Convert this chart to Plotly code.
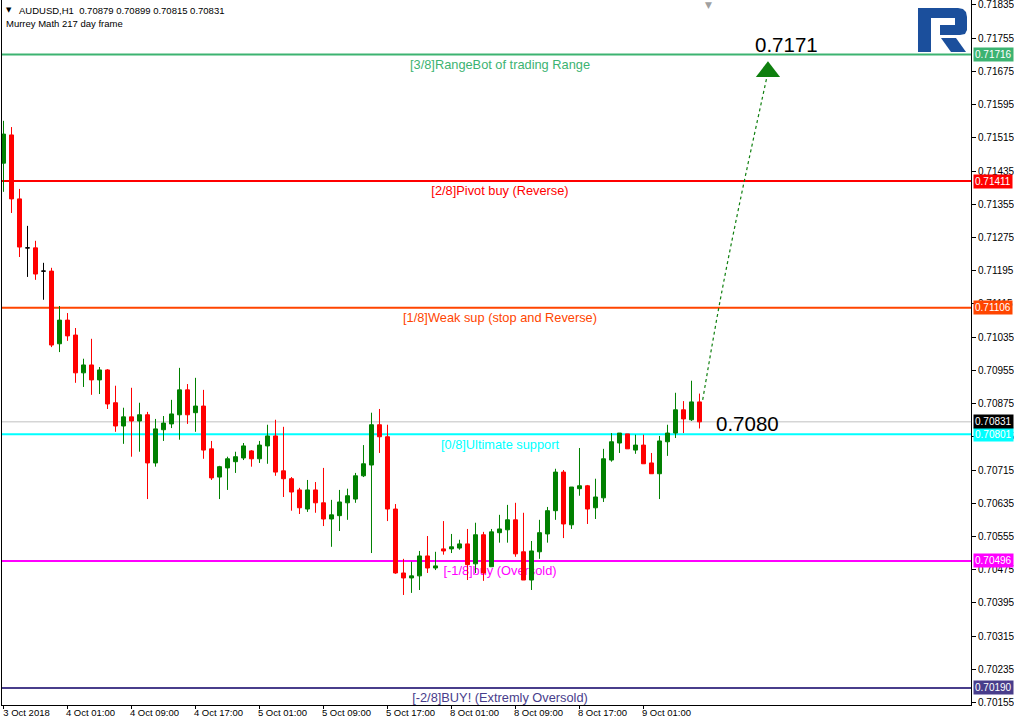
import plotly.graph_objects as go

# ---------------- data ----------------
opens = [0.71454, 0.71522, 0.71368, 0.71250, 0.71250, 0.71194, 0.71194, 0.71019, 0.71076, 0.71040,
         0.70949, 0.70968, 0.70932, 0.70956, 0.70877, 0.70821, 0.70843, 0.70833, 0.70848, 0.70732,
         0.70812, 0.70826, 0.70848, 0.70908, 0.70853, 0.70869, 0.70766, 0.70698, 0.70720, 0.70735,
         0.70744, 0.70761, 0.70742, 0.70773, 0.70797, 0.70713, 0.70694, 0.70667, 0.70621, 0.70667,
         0.70636, 0.70597, 0.70605, 0.70636, 0.70645, 0.70701, 0.70727, 0.70824, 0.70795, 0.70621,
         0.70467, 0.70455, 0.70460, 0.70508, 0.70479, 0.70525, 0.70525, 0.70527, 0.70537, 0.70489,
         0.70559, 0.70482, 0.70564, 0.70571, 0.70595, 0.70518, 0.70450, 0.70518, 0.70561, 0.70617,
         0.70710, 0.70583, 0.70670, 0.70677, 0.70624, 0.70648, 0.70739, 0.70780, 0.70802, 0.70763,
         0.70775, 0.70732, 0.70706, 0.70783, 0.70804, 0.70860, 0.70836, 0.70879]
highs = [0.71556, 0.71541, 0.71392, 0.71303, 0.71267, 0.71214, 0.71202, 0.71110, 0.71093, 0.71057,
         0.70983, 0.71031, 0.70963, 0.70958, 0.70918, 0.70865, 0.70913, 0.70877, 0.70855, 0.70838,
         0.70845, 0.70884, 0.70961, 0.70922, 0.70937, 0.70908, 0.70785, 0.70725, 0.70747, 0.70759,
         0.70780, 0.70763, 0.70785, 0.70824, 0.70836, 0.70819, 0.70698, 0.70672, 0.70691, 0.70686,
         0.70720, 0.70643, 0.70667, 0.70670, 0.70708, 0.70775, 0.70853, 0.70862, 0.70824, 0.70633,
         0.70501, 0.70494, 0.70520, 0.70556, 0.70518, 0.70592, 0.70561, 0.70547, 0.70573, 0.70588,
         0.70566, 0.70573, 0.70607, 0.70631, 0.70636, 0.70612, 0.70544, 0.70595, 0.70626, 0.70718,
         0.70715, 0.70674, 0.70768, 0.70679, 0.70694, 0.70766, 0.70804, 0.70804, 0.70802, 0.70800,
         0.70800, 0.70756, 0.70797, 0.70824, 0.70901, 0.70881, 0.70930, 0.70899]
lows = [0.71385, 0.71334, 0.71228, 0.71180, 0.71173, 0.71125, 0.71011, 0.70999, 0.71026, 0.70925,
        0.70915, 0.70896, 0.70898, 0.70862, 0.70807, 0.70778, 0.70747, 0.70759, 0.70645, 0.70723,
        0.70785, 0.70816, 0.70788, 0.70826, 0.70807, 0.70742, 0.70691, 0.70645, 0.70667, 0.70708,
        0.70739, 0.70723, 0.70732, 0.70730, 0.70701, 0.70650, 0.70617, 0.70609, 0.70614, 0.70612,
        0.70580, 0.70530, 0.70568, 0.70595, 0.70636, 0.70698, 0.70515, 0.70756, 0.70592, 0.70465,
        0.70414, 0.70419, 0.70426, 0.70467, 0.70474, 0.70511, 0.70515, 0.70523, 0.70450, 0.70467,
        0.70448, 0.70482, 0.70540, 0.70540, 0.70506, 0.70450, 0.70426, 0.70501, 0.70540, 0.70595,
        0.70551, 0.70573, 0.70653, 0.70585, 0.70597, 0.70638, 0.70735, 0.70756, 0.70766, 0.70754,
        0.70730, 0.70706, 0.70645, 0.70749, 0.70792, 0.70804, 0.70833, 0.70815]
closes = [0.71524, 0.71368, 0.71252, 0.71250, 0.71187, 0.71194, 0.71016, 0.71076, 0.71038, 0.70949,
          0.70968, 0.70932, 0.70956, 0.70874, 0.70821, 0.70843, 0.70833, 0.70848, 0.70732, 0.70814,
          0.70828, 0.70850, 0.70908, 0.70848, 0.70869, 0.70763, 0.70696, 0.70723, 0.70742, 0.70747,
          0.70773, 0.70742, 0.70775, 0.70797, 0.70710, 0.70694, 0.70662, 0.70624, 0.70667, 0.70636,
          0.70597, 0.70607, 0.70638, 0.70653, 0.70701, 0.70730, 0.70824, 0.70795, 0.70621, 0.70467,
          0.70455, 0.70460, 0.70508, 0.70479, 0.70484, 0.70520, 0.70530, 0.70537, 0.70487, 0.70559,
          0.70467, 0.70566, 0.70573, 0.70595, 0.70513, 0.70450, 0.70520, 0.70564, 0.70617, 0.70710,
          0.70585, 0.70674, 0.70677, 0.70621, 0.70650, 0.70742, 0.70783, 0.70804, 0.70766, 0.70775,
          0.70730, 0.70706, 0.70785, 0.70804, 0.70860, 0.70838, 0.70879, 0.70831]

time_labels = ["3 Oct 2018", "4 Oct 01:00", "4 Oct 09:00", "4 Oct 17:00", "5 Oct 01:00",
               "5 Oct 09:00", "5 Oct 17:00", "8 Oct 01:00", "8 Oct 09:00", "8 Oct 17:00",
               "9 Oct 01:00"]
time_label_bars = [0, 8, 16, 24, 32, 40, 48, 56, 64, 72, 80]

price_ticks = [0.70155, 0.70235, 0.70315, 0.70395, 0.70475, 0.70555, 0.70635, 0.70715,
               0.70795, 0.70875, 0.70955, 0.71035, 0.71115, 0.71195, 0.71275, 0.71355,
               0.71435, 0.71515, 0.71595, 0.71675, 0.71755, 0.71835]

level_values = [0.71716, 0.71411, 0.71106, 0.70801, 0.70496, 0.70190]
level_names = ["[3/8]RangeBot of trading Range", "[2/8]Pivot buy (Reverse)",
               "[1/8]Weak sup (stop and Reverse)", "[0/8]Ultimate support",
               "[-1/8]buy (Oversold)", "[-2/8]BUY! (Extremly Oversold)"]
level_colors = ["#3CB371", "#FF0000", "#FF4500", "#00FFFF", "#FF00FF", "#483D8B"]

bid_price = 0.70831
target_text = ["0.7171", "0.7080"]
target_value = [0.71741, 0.70826]
target_bar = [93.7, 88.8]

forecast_x = [87.4, 89.6, 92.1, 94.8, 95.4]
forecast_y = [0.70884, 0.71125, 0.71365, 0.71606, 0.71659]
arrow_head = (95.56, 0.71674)

# ---------------- figure ----------------
W, H = 1014, 721
ML, MR, MT, MB = 2, 43, 0, 16
PW = W - ML - MR
PH = H - MT - MB
Y_RANGE = [0.70149, 0.71847]
PX_PER_UNIT = PH / (Y_RANGE[1] - Y_RANGE[0])

def px(xp):
    return (xp - ML) / PW

def py(yp):
    return (PH + MT - yp) / PH

GREEN = "#008000"
RED = "#FF0000"

n = len(opens)
groups = {"up": [], "down": [], "doji": []}
for i in range(n):
    if closes[i] > opens[i]:
        groups["up"].append(i)
    elif closes[i] < opens[i]:
        groups["down"].append(i)
    else:
        groups["doji"].append(i)

fig = go.Figure()
for key, col in (("up", GREEN), ("down", RED), ("doji", "#000000")):
    idx = groups[key]
    fig.add_trace(go.Candlestick(
        x=idx,
        open=[opens[i] for i in idx], high=[highs[i] for i in idx],
        low=[lows[i] for i in idx], close=[closes[i] for i in idx],
        increasing=dict(line=dict(color=col, width=1), fillcolor=col),
        decreasing=dict(line=dict(color=col, width=1), fillcolor=col),
        whiskerwidth=0, hoverinfo="skip", showlegend=False,
    ))

# forecast dotted path and arrow head
fig.add_trace(go.Scatter(x=forecast_x, y=forecast_y, mode="lines",
                         line=dict(color="#0E7F0E", width=1.2, dash="dot", shape="spline"),
                         hoverinfo="skip", showlegend=False))
fig.add_trace(go.Scatter(x=[arrow_head[0]], y=[arrow_head[1]], mode="markers",
                         marker=dict(symbol="triangle-up", size=21, color="#0E7F0E",
                                     line=dict(width=0)),
                         hoverinfo="skip", showlegend=False))

shapes = []
annotations = []

# bid line
shapes.append(dict(type="line", xref="paper", x0=0, x1=1, yref="y", y0=bid_price, y1=bid_price,
                   line=dict(color="#C0C0C0", width=1), layer="below"))

FONT = "Liberation Sans, Arial, sans-serif"
label_h = 18 / PX_PER_UNIT
for val, name, col in zip(level_values, level_names, level_colors):
    shapes.append(dict(type="line", xref="paper", x0=0, x1=1, yref="y", y0=val, y1=val,
                       line=dict(color=col, width=2), layer="below"))
    # text label drawn behind the candles (chart in foreground)
    shapes.append(dict(type="rect", xref="paper", x0=px(30), x1=px(970), yref="y",
                       y0=val - label_h, y1=val, fillcolor="rgba(0,0,0,0)",
                       line=dict(width=0), layer="below",
                       label=dict(text=name, textposition="middle center",
                                  font=dict(family=FONT, size=12.8, color=col))))
    annotations.append(dict(xref="paper", x=1, xshift=2, yref="y", y=val, text=f"{val:.5f}",
                            showarrow=False, xanchor="left", yanchor="middle",
                            bgcolor=col, borderpad=1,
                            font=dict(family=FONT, size=10, color="#FFFFFF")))

annotations.append(dict(xref="paper", x=1, xshift=2, yref="y", y=bid_price, text=f"{bid_price:.5f}",
                        showarrow=False, xanchor="left", yanchor="middle",
                        bgcolor="#000000", borderpad=1,
                        font=dict(family=FONT, size=10, color="#FFFFFF")))

for t, v, b in zip(target_text, target_value, target_bar):
    annotations.append(dict(xref="x", x=b, yref="y", y=v, text=t, showarrow=False,
                            xanchor="left", yanchor="middle",
                            font=dict(family=FONT, size=20.5, color="#000000")))

# header texts
annotations.append(dict(xref="paper", x=px(4), yref="paper", y=py(10), text="\u25BC",
                        showarrow=False, xanchor="left", yanchor="middle",
                        font=dict(family="DejaVu Sans", size=7, color="#000000")))
annotations.append(dict(xref="paper", x=px(17), yref="paper", y=py(10),
                        text="AUDUSD,H1\u00a0\u00a00.70879 0.70899 0.70815 0.70831",
                        showarrow=False, xanchor="left", yanchor="middle",
                        font=dict(family=FONT, size=9.5, color="#000000")))
annotations.append(dict(xref="paper", x=px(4), yref="paper", y=py(23),
                        text="Murrey Math 217 day frame",
                        showarrow=False, xanchor="left", yanchor="middle",
                        font=dict(family=FONT, size=9.5, color="#000000")))
annotations.append(dict(xref="paper", x=px(708), yref="paper", y=py(5), text="\u25BC",
                        showarrow=False, xanchor="center", yanchor="middle",
                        font=dict(family="DejaVu Sans", size=9, color="#A0A0A0")))

# logo (approximate)
def P(pts):
    s = ""
    for k, (a, b) in enumerate(pts):
        s += ("M" if k == 0 else "L") + f"{px(a):.5f},{py(b):.5f} "
    return s + "Z"

logo_main = [(918, 8), (958, 8), (963, 9), (966, 12), (967, 17), (967, 30), (965, 34), (960, 35),
             (940, 35), (940, 25), (955, 25), (955, 18), (931, 18), (931, 52), (918, 52)]
logo_leg = [(941, 38), (956, 38), (966, 52), (951, 52)]
for pts in (logo_main, logo_leg):
    shapes.append(dict(type="path", xref="paper", yref="paper", path=P(pts),
                       fillcolor="#1B4F9C", line=dict(width=0), layer="above"))

fig.update_layout(
    width=W, height=H,
    margin=dict(l=ML, r=MR, t=MT, b=MB, pad=0, autoexpand=False),
    paper_bgcolor="#FFFFFF", plot_bgcolor="#FFFFFF",
    showlegend=False,
    boxgap=0.2, boxgroupgap=0.375,
    shapes=shapes, annotations=annotations,
    xaxis=dict(range=[-0.1875, 120.94], tickvals=time_label_bars, ticktext=time_labels,
               ticks="outside", ticklen=3, tickcolor="#000000", showline=True,
               linecolor="#000000", linewidth=1, showgrid=False, zeroline=False,
               rangeslider=dict(visible=False), ticklabelshift=23, ticklabelstandoff=-4,
               automargin=False, ticklabeloverflow="allow",
               tickfont=dict(family=FONT, size=9.5, color="#000000"), fixedrange=True),
    yaxis=dict(range=Y_RANGE, side="right", tickvals=price_ticks,
               ticktext=[f"{v:.5f}" for v in price_ticks], automargin=False,
               ticklabeloverflow="allow",
               ticks="outside", ticklen=4, tickcolor="#000000", showline=True, mirror=True,
               linecolor="#000000", linewidth=1, showgrid=False, zeroline=False,
               tickfont=dict(family=FONT, size=10, color="#000000"), fixedrange=True),
)

fig.write_html("out.html", config={"displayModeBar": False},
               post_script="document.body.style.margin='0';document.body.style.padding='0';"
                           "document.documentElement.style.overflow='hidden';")
